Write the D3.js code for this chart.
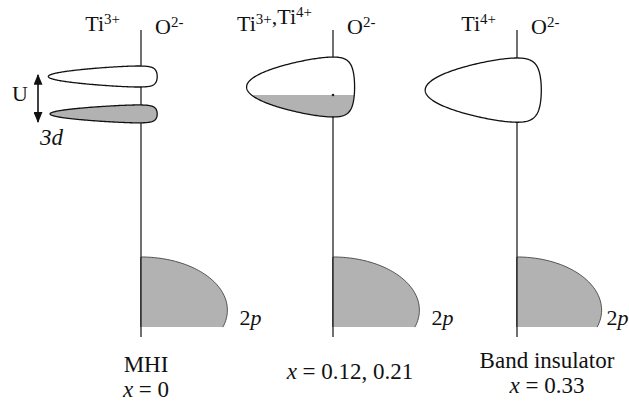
<!DOCTYPE html>
<html>
<head>
<meta charset="utf-8">
<script src="https://cdnjs.cloudflare.com/ajax/libs/d3/7.8.5/d3.min.js"></script>
<style>
  body { margin: 0; background: #fff; }
  text { font-family: "Liberation Serif", "DejaVu Serif", serif; fill: #111; }
</style>
</head>
<body>
<div class="dos-container"></div>
<script>
// panels: Mott-Hubbard insulator, mixed valence, band insulator
const panels = ['MHI', 'mixed', 'band'];
const cationIon = [[['Ti', '3+']], [['Ti', '3+'], [',Ti', '4+']], [['Ti', '4+']]];
const anionIon = ['O', '2-'];
const phaseName = ['MHI', '', 'Band insulator'];
const dopingX = ['0', '0.12, 0.21', '0.33'];

// Ti 3d lobes (energy in arb. units 0..10, DOS in arb. units)
const lobePanel  = ['MHI', 'MHI', 'mixed', 'band'];
const lobeCenter = [8.43, 7.22, 8.09, 7.99];
const lobeHalf   = [0.34, 0.29, 0.97, 1.04];
const lobeLeft   = [1.03, 1.01, 0.96, 1.02];
const lobeRight  = [0.18, 0.18, 0.24, 0.27];
const lobePeak   = [-0.03, -0.03, 0.0, 0.0];
const lobeFillTo = [-Infinity, Infinity, 7.83, -Infinity];

// O 2p band
const o2pTop    = [2.59, 2.59, 2.59];
const o2pPeak   = [0.87, 0.87, 0.87];
const o2pBottom = [0.32, 0.32, 0.32];
const o2pWidth  = [0.96, 0.96, 0.94];

// Hubbard U arrow (energies)
const uArrow = [8.48, 6.96];
const axisExtent = [0, 10];

const svg_width = 629, svg_height = 402;
const svg = d3.select('.dos-container').append('svg')
  .attr('width', svg_width).attr('height', svg_height);

const panelX = d3.scaleOrdinal().domain(panels).range([141, 333, 517]);
const y = d3.scaleLinear().domain(axisExtent).range([337, 28]);
const dos = d3.scaleLinear().domain([0, 1]).range([0, 90]);
const gray = '#b2b2b2';
const fontSize = '22px';

// energy axes
svg.selectAll('.axis-line').data(panels).enter().append('line')
  .attr('class', 'axis-line')
  .attr('x1', d => panelX(d)).attr('x2', d => panelX(d))
  .attr('y1', y(axisExtent[0])).attr('y2', y(axisExtent[1]) + 2)
  .attr('stroke', '#111').attr('stroke-width', 1.2);

// O 2p bands
function o2pPoints(i) {
  const ax = panelX(panels[i]);
  const cy = y(o2pPeak[i]);
  const ry = cy - y(o2pTop[i]);
  const rx = dos(o2pWidth[i]);
  const end = Math.acos((cy - y(o2pBottom[i])) / ry);
  return d3.range(0, 61).map(k => {
    const t = end * k / 60;
    return [ax + rx * Math.sin(t), cy - ry * Math.cos(t)];
  });
}
panels.forEach((p, i) => {
  const pts = o2pPoints(i);
  const ax = panelX(p);
  const area = [[ax, y(o2pTop[i])], ...pts, [ax, y(o2pBottom[i])]];
  svg.append('path').attr('d', d3.line()(area) + 'Z').attr('fill', gray);
  svg.append('path').attr('d', d3.line()(pts)).attr('fill', 'none')
    .attr('stroke', '#444').attr('stroke-width', 0.9);
  svg.append('line').attr('x1', ax).attr('x2', ax)
    .attr('y1', y(o2pTop[i])).attr('y2', y(o2pBottom[i]))
    .attr('stroke', '#111').attr('stroke-width', 1.2);
});

// Ti 3d lobes: egg curve, widest at the peak position
function lobePath(i) {
  const ax = panelX(lobePanel[i]);
  const cy = y(lobeCenter[i]);
  const b = y(0) - y(lobeHalf[i]);
  const xl = ax - dos(lobeLeft[i]), xr = ax + dos(lobeRight[i]);
  const xc = (xl + xr) / 2, a = (xr - xl) / 2;
  const w = ax + dos(lobePeak[i]) - xc;
  const half = x => Math.sqrt(Math.max(0, b * b * (a * a - x * x) / (a * a - 2 * w * x + w * w)));
  const n = 120;
  const top = d3.range(0, n + 1).map(k => {
    const x = a * Math.cos(Math.PI * k / n);
    return [xc + x, cy - half(x)];
  });
  const bottom = top.slice().reverse().map(([px, py]) => [px, 2 * cy - py]);
  return d3.line()(top.concat(bottom)) + 'Z';
}

const defs = svg.append('defs');
lobePanel.forEach((p, i) => {
  const d = lobePath(i);
  svg.append('path').attr('d', d).attr('fill', '#fff');
  if (lobeFillTo[i] > -Infinity) {
    const top = lobeFillTo[i] === Infinity ? 0 : y(lobeFillTo[i]);
    defs.append('clipPath').attr('id', 'fill' + i)
      .append('rect').attr('x', 0).attr('y', top)
      .attr('width', svg_width).attr('height', svg_height - top);
    svg.append('path').attr('d', d).attr('fill', gray)
      .attr('clip-path', `url(#fill${i})`);
    if (lobeFillTo[i] !== Infinity) {
      svg.append('circle').attr('cx', panelX(p)).attr('cy', y(lobeFillTo[i]))
        .attr('r', 1.3).attr('fill', '#222');
    }
  }
  svg.append('path').attr('d', d).attr('fill', 'none')
    .attr('stroke', '#111').attr('stroke-width', 1.3);
});

// U arrow
defs.append('marker').attr('id', 'head')
  .attr('viewBox', '0 0 10 10').attr('refX', 9).attr('refY', 5)
  .attr('markerWidth', 11).attr('markerHeight', 9)
  .attr('markerUnits', 'userSpaceOnUse').attr('orient', 'auto-start-reverse')
  .attr('preserveAspectRatio', 'none')
  .append('path').attr('d', 'M0,0L10,5L0,10Z').attr('fill', '#111');
const arrowX = panelX('MHI') - 103;
svg.append('line').attr('x1', arrowX).attr('x2', arrowX)
  .attr('y1', y(uArrow[0])).attr('y2', y(uArrow[1]))
  .attr('stroke', '#111').attr('stroke-width', 1.6)
  .attr('marker-start', 'url(#head)').attr('marker-end', 'url(#head)');
svg.append('text').attr('x', arrowX - 26).attr('y', y((uArrow[0] + uArrow[1]) / 2) + 3)
  .style('font-size', fontSize).text('U');
const lbl3d = svg.append('text').attr('x', arrowX + 2).attr('y', y(uArrow[1]) + 23)
  .style('font-size', '23px').style('font-style', 'italic');
lbl3d.append('tspan').text('3');
lbl3d.append('tspan').text('d');

// 2p labels
const o2pGap = [12, 12, 5];
panels.forEach((p, i) => {
  const t = svg.append('text')
    .attr('x', panelX(p) + dos(o2pWidth[i]) + o2pGap[i])
    .attr('y', y((o2pPeak[i] + o2pBottom[i]) / 2) + 6)
    .style('font-size', fontSize);
  t.append('tspan').text('2');
  t.append('tspan').style('font-style', 'italic').text('p');
});

// ion labels
function ionText(sel, parts) {
  parts.forEach(([base, sup]) => {
    sel.append('tspan').text(base).attr('dy', 0).style('font-size', fontSize);
    sel.append('tspan').text(sup).attr('dy', -7).style('font-size', '15px');
    sel.append('tspan').text('').attr('dy', 7);
  });
}
panels.forEach((p, i) => {
  const c = svg.append('text').attr('x', panelX(p) - 21).attr('y', 31)
    .attr('text-anchor', 'end');
  ionText(c, cationIon[i]);
  const o = svg.append('text').attr('x', panelX(p) + 14).attr('y', 34);
  ionText(o, [anionIon]);
});

// phase / composition labels
const labelX = [146, 350, 547];
const phaseY = [372, 0, 368];
const dopY = [397, 379, 393];
panels.forEach((p, i) => {
  if (phaseName[i]) {
    svg.append('text').attr('x', labelX[i]).attr('y', phaseY[i])
      .attr('text-anchor', 'middle').style('font-size', '23px').text(phaseName[i]);
  }
  const t = svg.append('text').attr('x', labelX[i]).attr('y', dopY[i])
    .attr('text-anchor', 'middle').style('font-size', '23px');
  t.append('tspan').style('font-style', 'italic').text('x');
  t.append('tspan').text(' = ' + dopingX[i]);
});
</script>
</body>
</html>
